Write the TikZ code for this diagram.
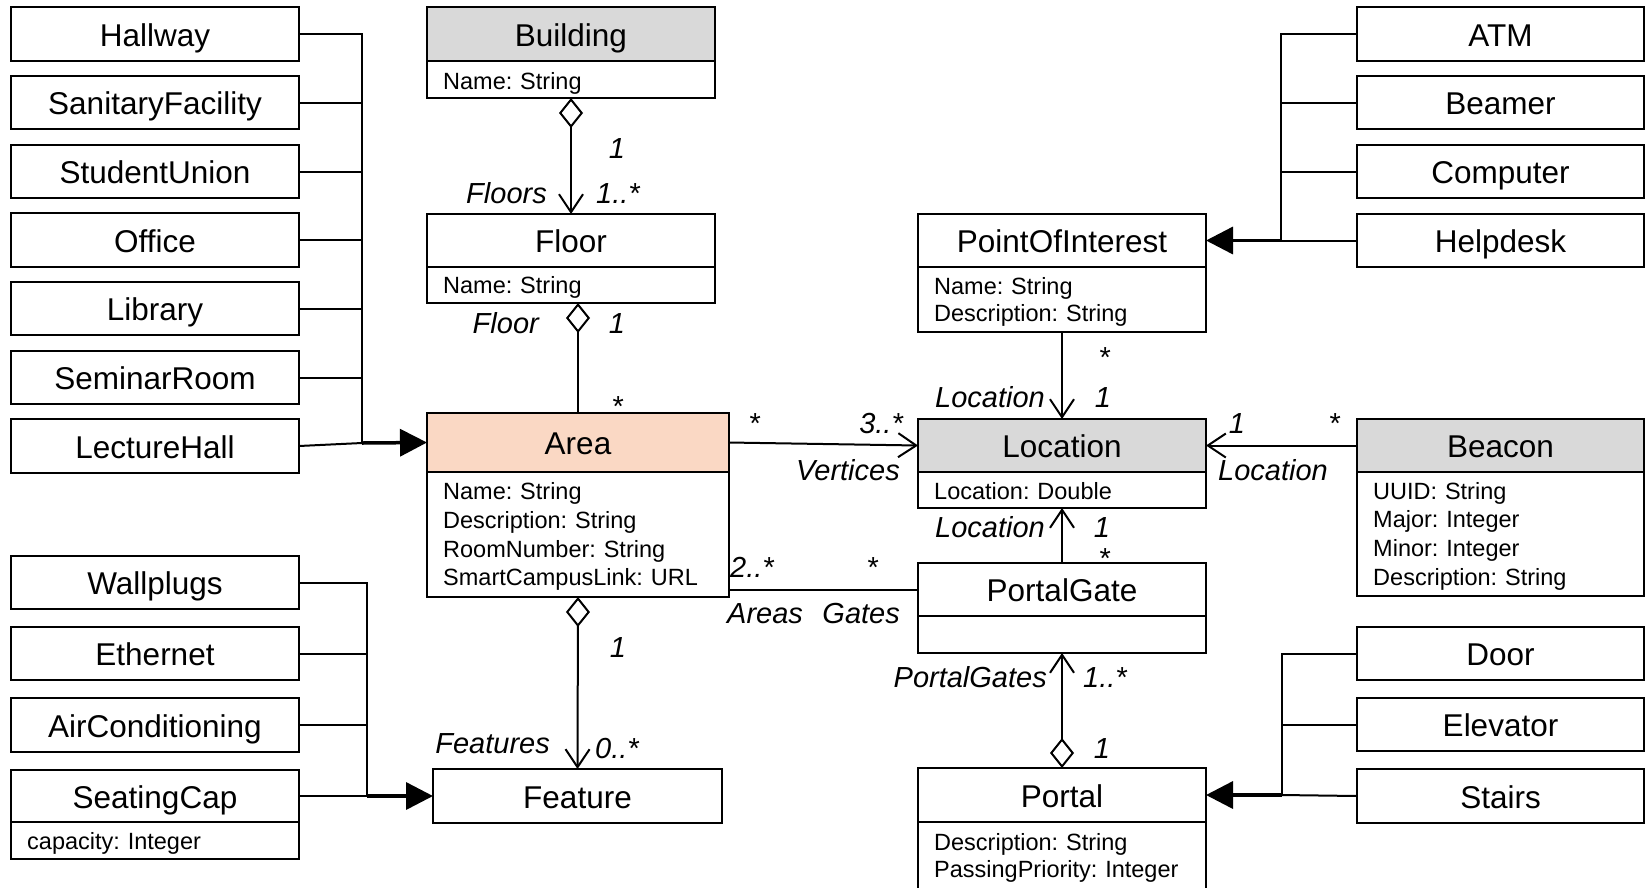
\documentclass[tikz,border=0pt]{standalone}
\usepackage{fontspec}
\setmainfont{Liberation Sans}
\usetikzlibrary{arrows.meta}
\definecolor{hdrgray}{RGB}{217,217,217}
\definecolor{areapeach}{RGB}{250,216,196}
\frenchspacing
\begin{document}
\begin{tikzpicture}[x=1pt,y=-1pt,
  box/.style={draw=black, line width=2pt, inner sep=0pt, outer sep=0pt, anchor=north west, minimum width=288pt},
  cls/.style={box, minimum height=54pt, font=\fontsize{31.5}{36}\selectfont, text height=24pt, text depth=0pt},
  cmp/.style={box},
  atxt/.style={anchor=base west, inner sep=0pt, font=\fontsize{23.5}{28.8}\selectfont\frenchspacing, align=left, text width=260pt},
  atxtb/.style={atxt, font=\fontsize{23.5}{27.7}\selectfont\frenchspacing},
  lbl/.style={inner sep=0pt, font=\fontsize{29}{30}\selectfont\itshape},
  conn/.style={line width=2pt},
  gen/.style={line width=3.5pt, -{Triangle[length=27pt,width=27pt]}},
  agg/.style={conn, {Diamond[open,length=30pt,width=24pt]}-{Straight Barb[length=18pt,width=24pt]}},
  nav/.style={conn, -{Straight Barb[length=18pt,width=24pt]}}
]
\useasboundingbox (0,0) rectangle (1646,887);

% left column
\node[cls] (hallway) at (11,7) {Hallway};
\node[cls,minimum height=53pt] (sanitary) at (11,76) {SanitaryFacility};
\node[cls,minimum height=53pt] (student) at (11,145) {StudentUnion};
\node[cls] (office) at (11,213) {Office};
\node[cls,minimum height=53pt] (library) at (11,282) {Library};
\node[cls,minimum height=53pt] (seminar) at (11,351) {SeminarRoom};
\node[cls] (lecture) at (11,419) {LectureHall};
\node[cls,minimum height=53pt] (wallplugs) at (11,556) {Wallplugs};
\node[cls,minimum height=53pt] (ethernet) at (11,627) {Ethernet};
\node[cls] (aircon) at (11,698) {AirConditioning};
\node[cls,minimum height=52pt] (seating) at (11,770) {SeatingCap};
\node[cmp,minimum height=37pt] (seatingA) at (11,822) {};
\node[atxt] (seatingT) at (27,849) {capacity: Integer};

% middle column
\node[cls,fill=hdrgray] (building) at (427,7) {Building};
\node[cmp,minimum height=37pt] (buildingA) at (427,61) {};
\node[atxt] (buildingT) at (443,89.3) {Name: String};
\node[cls,minimum height=53pt] (floor) at (427,214) {Floor};
\node[cmp,minimum height=36pt] (floorA) at (427,267) {};
\node[atxt] (floorT) at (443,293.3) {Name: String};
\node[cls,fill=areapeach,minimum width=302pt,minimum height=59pt] (area) at (427,413) {Area};
\node[cmp,minimum width=302pt,minimum height=125pt] (areaA) at (427,472) {};
\node[atxt] (areaT) at (443,499.5) {Name: String\\Description: String\\RoomNumber: String\\SmartCampusLink: URL};
\node[cls,minimum width=289pt] (feature) at (433,769) {Feature};

% centre-right column
\node[cls,minimum height=53pt] (poi) at (918,214) {PointOfInterest};
\node[cmp,minimum height=65pt] (poiA) at (918,267) {};
\node[atxtb] (poiT) at (934,294) {Name: String\\Description: String};
\node[cls,fill=hdrgray,minimum height=53pt] (location) at (918,419) {Location};
\node[cmp,minimum height=36pt] (locationA) at (918,472) {};
\node[atxt] (locationT) at (934,499) {Location: Double};
\node[cls,minimum height=53pt] (portalgate) at (918,563) {PortalGate};
\node[cmp,minimum height=37pt] (portalgateA) at (918,616) {};
\node[cls] (portal) at (918,768) {Portal};
\node[cmp,minimum height=74pt] (portalA) at (918,822) {};
\node[atxtb] (portalT) at (934,850) {Description: String\\PassingPriority: Integer};

% right column
\node[cls,minimum width=287pt] (atm) at (1357,7) {ATM};
\node[cls,minimum width=287pt,minimum height=53pt] (beamer) at (1357,76) {Beamer};
\node[cls,minimum width=287pt,minimum height=53pt] (computer) at (1357,145) {Computer};
\node[cls,minimum width=287pt,minimum height=53pt] (helpdesk) at (1357,214) {Helpdesk};
\node[cls,fill=hdrgray,minimum width=287pt,minimum height=53pt] (beacon) at (1357,419) {Beacon};
\node[cmp,minimum width=287pt,minimum height=124pt] (beaconA) at (1357,472) {};
\node[atxt] (beaconT) at (1373,499) {UUID: String\\Major: Integer\\Minor: Integer\\Description: String};
\node[cls,minimum width=287pt,minimum height=53pt] (door) at (1357,627) {Door};
\node[cls,minimum width=287pt,minimum height=53pt] (elevator) at (1357,698) {Elevator};
\node[cls,minimum width=287pt] (stairs) at (1357,769) {Stairs};

% generalisations
\coordinate (busL) at (362,443);
\draw[conn] (hallway.east) -| (busL);
\foreach \n in {sanitary,student,office,library,seminar} \draw[conn] (\n.east) -- (\n.east -| busL);
\draw[conn] (lecture.east) -- (busL);
\draw[gen] (busL) -- (area.west);

\coordinate (busF) at (367,796);
\draw[conn] (wallplugs.east) -| (busF);
\foreach \n in {ethernet,aircon} \draw[conn] (\n.east) -- (\n.east -| busF);
\draw[conn] (seating.east) -- (busF);
\draw[gen] (busF) -- (feature.west);

\coordinate (busP) at (1281,240.5);
\draw[conn] (atm.west) -| (busP);
\foreach \n in {beamer,computer} \draw[conn] (\n.west) -- (\n.west -| busP);
\draw[conn] (helpdesk.west) -- (busP);
\draw[gen] (busP) -- (poi.east);

\coordinate (busG) at (1282,795);
\draw[conn] (door.west) -| (busG);
\draw[conn] (elevator.west) -- (elevator.west -| busG);
\draw[conn] (stairs.west) -- (busG);
\draw[gen] (busG) -- (portal.east);

% associations
\draw[agg] (buildingA.south) -- (floor.north);
\draw[conn, {Diamond[open,length=30pt,width=24pt]}-] (floorA.south -| area.north) -- (area.north);
\draw[nav] (area.east) -- (location.west);
\draw[nav] (poiA.south) -- (location.north);
\draw[nav] (beacon.west) -- (location.east);
\draw[nav] (portalgate.north) -- (locationA.south);
\draw[conn] (areaA.east |- portalgate.west) -- (portalgate.west);
\draw[agg] (areaA.south) -- (feature.north);
\draw[agg] (portal.north) -- (portalgateA.south);

% labels
\node[lbl,anchor=base] (l1) at (617,158) {1};
\node[lbl,anchor=base east] (l2) at (547,203) {Floors};
\node[lbl,anchor=base west] (l3) at (596,203) {1..*};
\node[lbl,anchor=base east] (l4) at (539,333) {Floor};
\node[lbl,anchor=base] (l5) at (617,333) {1};
\node[lbl,anchor=base] (l6) at (617,416) {*};
\node[lbl,anchor=base] (l7) at (754,433) {*};
\node[lbl,anchor=base east] (l8) at (903,433) {3..*};
\node[lbl,anchor=base east] (l9) at (900,480) {Vertices};
\node[lbl,anchor=base west] (l10) at (730,577) {2..*};
\node[lbl,anchor=base] (l11) at (872,577) {*};
\node[lbl,anchor=base west] (l12) at (727,623) {Areas};
\node[lbl,anchor=base east] (l13) at (900,623) {Gates};
\node[lbl,anchor=base] (l14) at (618,657) {1};
\node[lbl,anchor=base east] (l15) at (550,753) {Features};
\node[lbl,anchor=base west] (l16) at (595,758) {0..*};
\node[lbl,anchor=base] (l17) at (1104,367) {*};
\node[lbl,anchor=base east] (l18) at (1045,407) {Location};
\node[lbl,anchor=base] (l19) at (1103,407) {1};
\node[lbl,anchor=base] (l20) at (1237,433) {1};
\node[lbl,anchor=base] (l21) at (1334,433) {*};
\node[lbl,anchor=base west] (l22) at (1218,480) {Location};
\node[lbl,anchor=base east] (l23) at (1045,537) {Location};
\node[lbl,anchor=base] (l24) at (1102,537) {1};
\node[lbl,anchor=base] (l25) at (1104,568) {*};
\node[lbl,anchor=base east] (l26) at (1047,687) {PortalGates};
\node[lbl,anchor=base west] (l27) at (1083,687) {1..*};
\node[lbl,anchor=base] (l28) at (1102,758) {1};
\end{tikzpicture}
\end{document}
